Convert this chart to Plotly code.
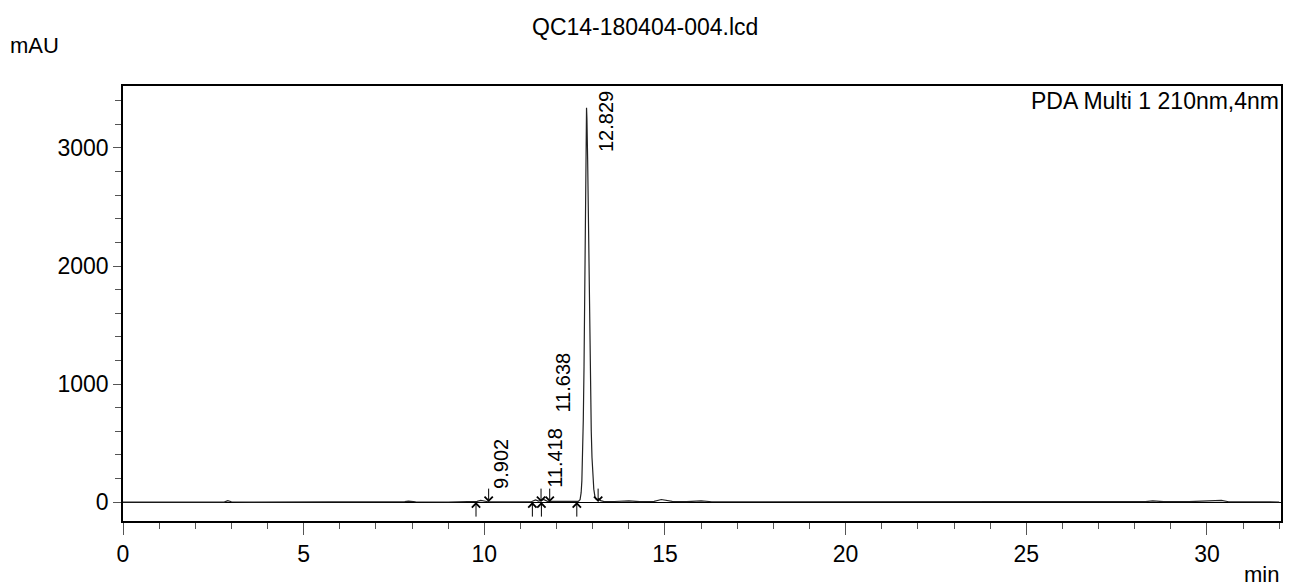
import plotly.graph_objects as go

# Chromatogram trace (time in min, signal in mAU)
time_min = [0.0, 1.0, 2.0, 2.8, 2.9, 3.0, 3.5, 4.5, 5.0, 6.0, 7.0, 7.8, 7.9, 8.0, 8.1, 9.0,
            9.7, 9.8, 9.902, 10.0, 10.1, 10.5, 11.0, 11.3, 11.418, 11.5, 11.55, 11.638, 11.75,
            12.0, 12.3, 12.5, 12.6, 12.65, 12.68, 12.70, 12.72, 12.74, 12.76, 12.78, 12.80,
            12.81, 12.82, 12.829, 12.84, 12.86, 12.88, 12.90, 12.92, 12.94, 12.96, 12.98,
            13.00, 13.03, 13.06, 13.10, 13.14, 13.17, 13.22, 13.3, 13.6, 14.0, 14.3, 14.7,
            14.9, 15.2, 15.6, 16.0, 16.3, 17.0, 18.0, 20.0, 22.0, 25.0, 27.0, 28.3, 28.5,
            28.8, 29.5, 30.0, 30.2, 30.4, 30.6, 31.0, 32.0]
signal_mau = [0, 0, 0, 0, 12, 3, 0, 0, 1, 3, 4, 4, 9, 4, 3, 1,
              1, 6, 14, 6, 3, 2, 3, 3, 18, 8, 12, 22, 6,
              6, 4, 3, 6, 20, 80, 180, 380, 700, 1150, 1750, 2500,
              2900, 3200, 3340, 3250, 2900, 2350, 1800, 1300, 900, 600, 380,
              230, 110, 50, 25, 22, 30, 12, 6, 5, 11, 4, 6,
              22, 6, 4, 10, 3, 3, 2, 1, 1, 1, 2, 4, 10,
              4, 4, 6, 10, 14, 3, 1, 1]

# Peak labels (retention times)
peak_rt = [9.902, 11.418, 11.638, 12.829]
peak_label_y = [93, 100, 746, 2949]   # label base height (mAU)

# Peak start / end markers
peak_start = [9.77, 11.33, 11.58, 12.56]
peak_end = [10.12, 11.57, 11.81, 13.15]

FONT = "Liberation Sans, Arial, sans-serif"

fig = go.Figure()
fig.add_trace(go.Scatter(x=time_min, y=signal_mau, mode="lines",
                         line=dict(color="#222222", width=1.2), hoverinfo="skip",
                         showlegend=False))

annotations = []
for rt, ly in zip(peak_rt, peak_label_y):
    annotations.append(dict(x=rt, y=ly, xref="x", yref="y", text=f"{rt:.3f}",
                            showarrow=False, textangle=-90, xanchor="center",
                            yanchor="bottom", xshift=20,
                            font=dict(family=FONT, size=20, color="black")))
for t in peak_start:
    annotations.append(dict(x=t, y=0, xref="x", yref="y", text="", showarrow=True,
                            ax=0, ay=16, arrowhead=4, arrowsize=1.6, arrowwidth=1,
                            arrowcolor="black"))
for t in peak_end:
    annotations.append(dict(x=t, y=0, xref="x", yref="y", text="", showarrow=True,
                            ax=0, ay=-15, arrowhead=4, arrowsize=1.6, arrowwidth=1,
                            arrowcolor="black"))

annotations += [
    dict(x=0.451, y=1.0, xref="paper", yref="paper", yshift=59, text="QC14-180404-004.lcd",
         showarrow=False, xanchor="center", yanchor="middle",
         font=dict(family=FONT, size=23, color="black")),
    dict(x=-0.099, y=1.0, xref="paper", yref="paper", yshift=41, text="mAU",
         showarrow=False, xanchor="left", yanchor="middle",
         font=dict(family=FONT, size=22, color="black")),
    dict(x=1.0, y=1.0, xref="paper", yref="paper", text="PDA Multi 1 210nm,4nm",
         showarrow=False, xanchor="right", yanchor="top",
         font=dict(family=FONT, size=23, color="black")),
    dict(x=1.0, y=0.0, xref="paper", yref="paper", yshift=-53, text="min",
         showarrow=False, xanchor="right", yanchor="middle",
         font=dict(family=FONT, size=22, color="black")),
]

fig.update_layout(
    width=1291, height=588,
    margin=dict(l=123, r=8, t=86, b=67),
    paper_bgcolor="white", plot_bgcolor="white",
    font=dict(family=FONT, size=23, color="black"),
    annotations=annotations,
    xaxis=dict(range=[0, 32.05], tickmode="linear", tick0=0, dtick=5,
               ticks="outside", ticklen=12, tickwidth=1, tickcolor="#555555",
               minor=dict(tick0=0, dtick=1, ticks="outside", ticklen=6, tickcolor="#555555"),
               showgrid=False, zeroline=False, showline=True, linecolor="black",
               linewidth=1.5, mirror=True, tickfont=dict(size=23)),
    yaxis=dict(range=[-160, 3525], tickmode="array", tickvals=[0, 1000, 2000, 3000],
               ticks="outside", ticklen=8, tickwidth=1, tickcolor="#555555",
               minor=dict(tick0=0, dtick=200, ticks="outside", ticklen=6, tickcolor="#555555"),
               showgrid=False, zeroline=True, zerolinecolor="black", zerolinewidth=1,
               showline=True, linecolor="black", linewidth=1.5, mirror=True,
               tickfont=dict(size=23)),
)

fig.write_html("out.html", config={"displayModeBar": False},
               post_script="document.body.style.margin='0';document.body.style.padding='0';"
                           "document.documentElement.style.overflow='hidden';")
